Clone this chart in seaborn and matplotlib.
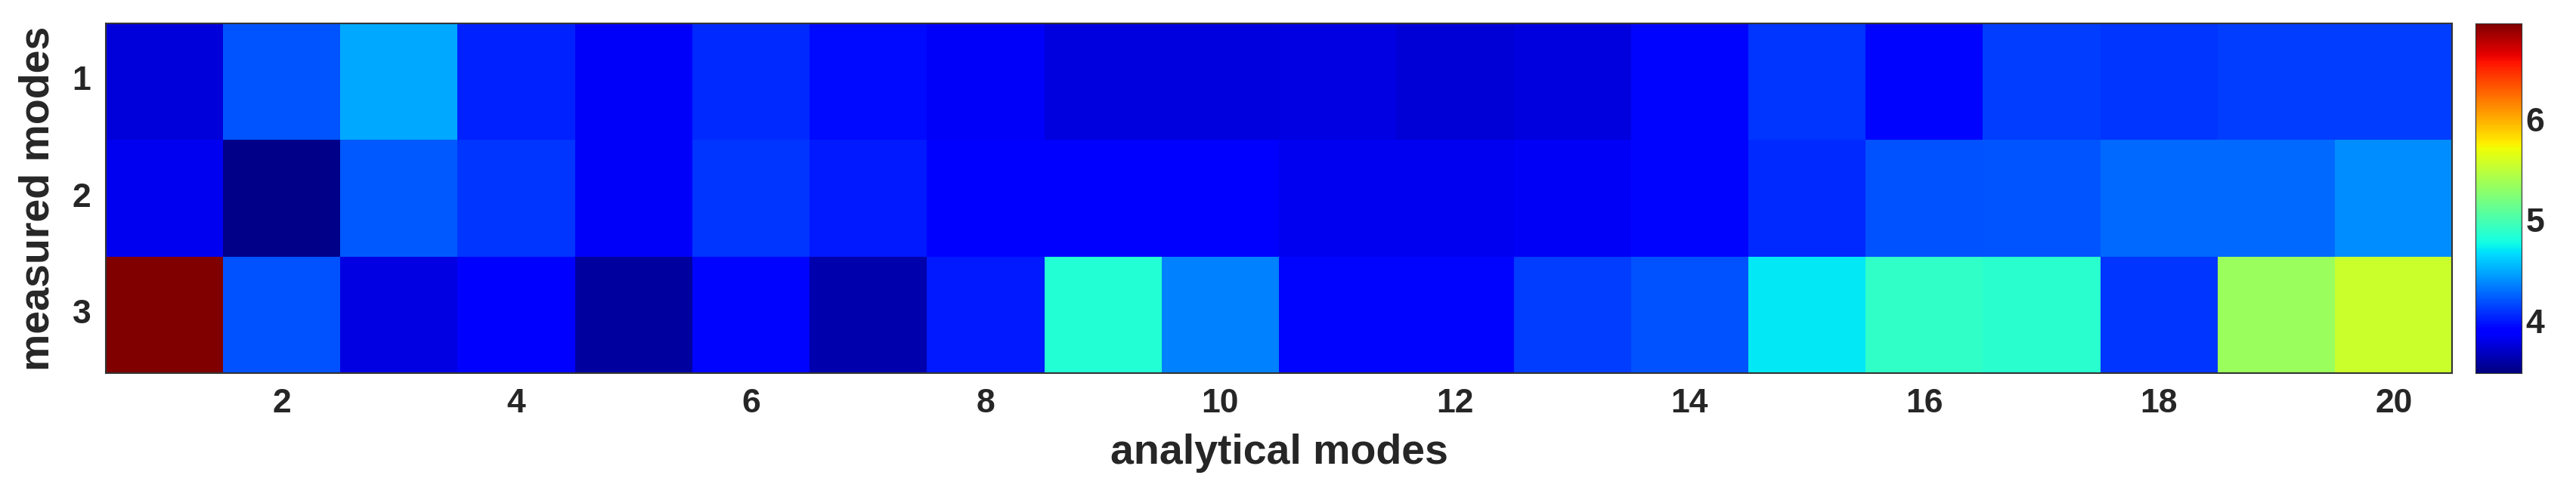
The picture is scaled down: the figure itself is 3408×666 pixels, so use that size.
import numpy as np
import pandas as pd
import seaborn as sns
import matplotlib
matplotlib.use("Agg")
import matplotlib.pyplot as plt

analytical_modes = list(range(1, 21))
measured_modes = [1, 2, 3]
row1 = [3.76, 4.21, 4.49, 4.03, 3.85, 4.06, 3.95, 3.85, 3.77, 3.77, 3.79, 3.75, 3.77, 3.93, 4.10, 3.93, 4.13, 4.10, 4.13, 4.13]
row2 = [3.82, 3.52, 4.22, 4.10, 3.85, 4.10, 4.00, 3.90, 3.90, 3.87, 3.83, 3.83, 3.84, 3.93, 4.06, 4.19, 4.20, 4.27, 4.27, 4.40]
row3 = [6.95, 4.19, 3.78, 3.86, 3.58, 3.93, 3.62, 4.00, 4.84, 4.36, 3.93, 3.93, 4.13, 4.19, 4.70, 4.90, 4.87, 4.10, 5.35, 5.55]

df = pd.DataFrame([row1, row2, row3], index=measured_modes, columns=analytical_modes)

sns.set_style("white")
plt.rcParams['font.family'] = ['Liberation Sans', 'DejaVu Sans']
plt.rcParams['font.weight'] = 'bold'

fig = plt.figure(figsize=(34.08, 6.66), dpi=100)
ax = fig.add_axes([0.041, 0.258, 0.911, 0.696])
cax = fig.add_axes([0.961, 0.258, 0.018, 0.696])
sns.heatmap(df, ax=ax, cbar_ax=cax, cmap="jet", vmin=3.48, vmax=6.95,
            linewidths=0)
ax.set_xticks([i - 0.5 for i in analytical_modes if i % 2 == 0])
ax.set_xticklabels([str(i) for i in analytical_modes if i % 2 == 0], rotation=0, fontsize=32, fontweight='bold')
ax.set_yticks([0.5, 1.5, 2.5])
ax.set_yticklabels([str(m) for m in measured_modes], rotation=0, fontsize=32, fontweight='bold', va='center')
ax.set_xlabel("analytical modes", fontsize=40, fontweight='bold', labelpad=14)
ax.set_ylabel("measured modes", fontsize=40, fontweight='bold', labelpad=14)
ax.tick_params(direction='in', length=8, width=1.5, color='#222222', pad=14)
for s in ax.spines.values():
    s.set_visible(True); s.set_color('#333333'); s.set_linewidth(1.5)
cax.set_yticks([4, 5, 6])
cax.tick_params(labelsize=32, length=5, direction='in')
for t in cax.get_yticklabels():
    t.set_fontweight('bold')
for s in cax.spines.values():
    s.set_visible(True); s.set_color('#333333')
fig.savefig("out.png", dpi=100)
